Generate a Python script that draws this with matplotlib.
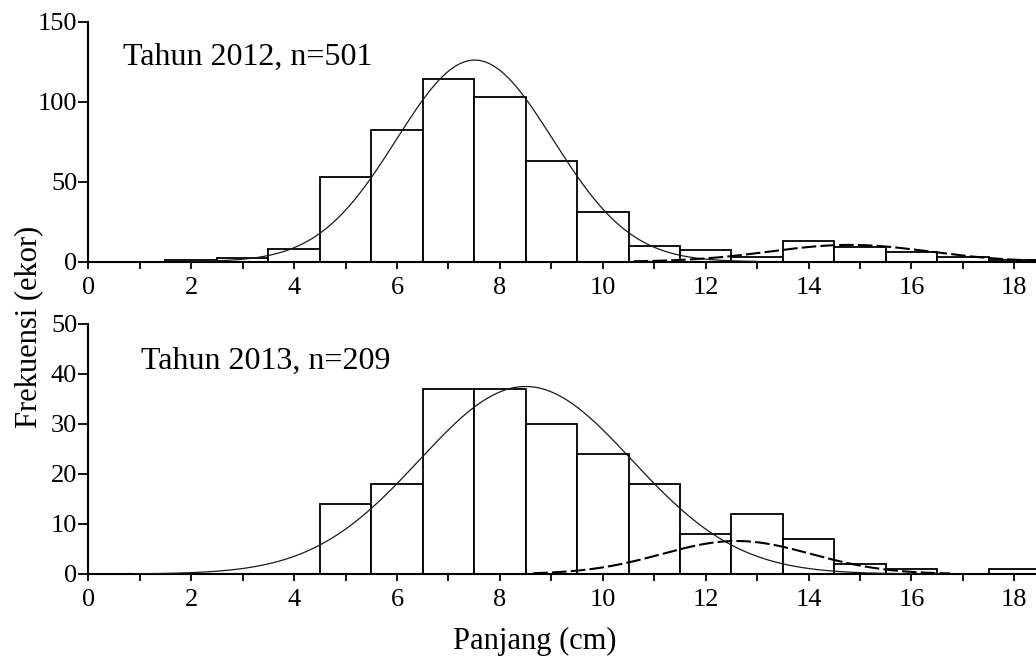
import numpy as np
import matplotlib
matplotlib.use("Agg")
import matplotlib.pyplot as plt
from matplotlib.ticker import MultipleLocator

plt.rcParams['font.family'] = ['Liberation Serif', 'DejaVu Serif']

# ---------------- data ----------------
# length-class midpoints (cm), bin width 1 cm
centers_2012 = [2, 3, 4, 5, 6, 7, 8, 9, 10, 11, 12, 13, 14, 15, 16, 17, 18]
freq_2012 = [1, 2, 8, 53, 82, 114, 103, 63, 31, 10, 7, 3, 13, 9, 6, 3, 1]

centers_2013 = [5, 6, 7, 8, 9, 10, 11, 12, 13, 14, 15, 16, 18]
freq_2013 = [14, 18, 37, 37, 30, 24, 18, 8, 12, 7, 2, 1, 1]

# fitted normal components (mean, sd, peak height, drawn from, drawn to)
comp_mean_2012 = [7.51, 14.8]
comp_sd_2012 = [1.52, 1.55]
comp_peak_2012 = [126, 10.5]
comp_from_2012 = [2.0, 10.6]
comp_to_2012 = [13.0, 18.42]

comp_mean_2013 = [8.5, 12.6]
comp_sd_2013 = [2.07, 1.45]
comp_peak_2013 = [37.5, 6.6]
comp_from_2013 = [0.85, 8.65]
comp_to_2013 = [16.75, 16.75]

labels = ["Tahun 2012, n=501", "Tahun 2013, n=209"]
xticks_major = [0, 2, 4, 6, 8, 10, 12, 14, 16, 18]
yticks_2012 = [0, 50, 100, 150]
yticks_2013 = [0, 10, 20, 30, 40, 50]

# ---------------- figure ----------------
W, H = 1036, 659
fig = plt.figure(figsize=(W / 100, H / 100), dpi=100)

x0 = 88.3
ax1 = fig.add_axes([x0 / W, 1 - 261.7 / H, 1 - x0 / W, 240 / H])
ax2 = fig.add_axes([x0 / W, 1 - 574 / H, 1 - x0 / W, 250 / H])

def draw(ax, centers, freq, means, sds, peaks, froms, tos, ylim, yticks, label, lab_xy):
    ax.bar(centers, freq, width=1.0, facecolor='white', edgecolor='black',
           linewidth=1.3, zorder=2)
    styles = [dict(color='#1a1a1a', lw=0.9, ls='-'),
              dict(color='black', lw=1.5, ls=(0, (7, 2)))]
    for m, s, p, a, b, st in zip(means, sds, peaks, froms, tos, styles):
        xs = np.linspace(a, b, 300)
        ax.plot(xs, p * np.exp(-0.5 * ((xs - m) / s) ** 2), zorder=3, **st)
    ax.set_xlim(0, 18.42)
    ax.set_ylim(*ylim)
    ax.set_yticks(yticks)
    ax.set_xticks(xticks_major)
    ax.xaxis.set_minor_locator(MultipleLocator(1))
    for side in ('top', 'right'):
        ax.spines[side].set_visible(False)
    for side in ('left', 'bottom'):
        ax.spines[side].set_linewidth(1.5)
    ax.tick_params(axis='x', which='both', direction='out', length=5, width=1.3,
                   labelsize=19, pad=6)
    ax.tick_params(axis='y', which='both', direction='out', length=7, width=1.3,
                   labelsize=19, pad=1)
    ax.set_clip_on(False)
    ax.text(lab_xy[0], lab_xy[1], label, fontsize=23, ha='left', va='center')

draw(ax1, centers_2012, freq_2012, comp_mean_2012, comp_sd_2012, comp_peak_2012,
     comp_from_2012, comp_to_2012, (0, 150), yticks_2012, labels[0], (0.68, 128))
draw(ax2, centers_2013, freq_2013, comp_mean_2013, comp_sd_2013, comp_peak_2013,
     comp_from_2013, comp_to_2013, (0, 50), yticks_2013, labels[1], (1.03, 42.5))

fig.text(29 / W, 1 - 327 / H, "Frekuensi (ekor)", rotation=90, fontsize=22,
         ha='center', va='center')
fig.text(535 / W, 1 - 641 / H, "Panjang (cm)", fontsize=22, ha='center', va='center')

fig.savefig("out.png", dpi=100)
